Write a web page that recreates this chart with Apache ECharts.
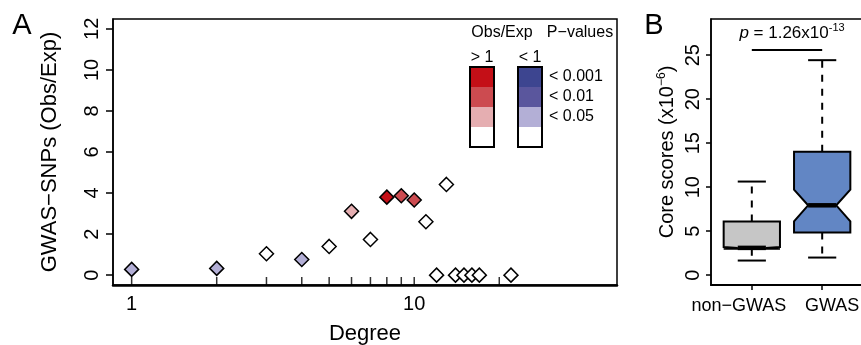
<!DOCTYPE html>
<html>
<head>
<meta charset="utf-8">
<script src="https://cdn.jsdelivr.net/npm/echarts@6/dist/echarts.min.js"></script>
<style>
  html, body { margin: 0; padding: 0; background: #fff; }
  #chart { width: 861px; height: 345px; }
</style>
</head>
<body>
<div id="chart"></div>
<script>
// Panel A: enrichment of GWAS SNPs by node degree
const degree = [1, 2, 3, 4, 5, 6, 7, 8, 9, 10, 11, 12, 13, 14, 15, 16, 17, 22];
const obsExp = [0.28, 0.33, 1.04, 0.76, 1.40, 3.11, 1.74, 3.80, 3.87, 3.66, 2.60, 0, 4.42, 0, 0, 0, 0, 0];
// 0 = n.s., 1 = p < 0.05, 2 = p < 0.01, 3 = p < 0.001
const sigLevel = [1, 1, 0, 1, 0, 1, 0, 3, 2, 2, 0, 0, 0, 0, 0, 0, 0, 0];
const degreeTicks = [1, 2, 3, 4, 5, 6, 7, 8, 9, 10, 20];
const degreeLabels = [1, 10];
const ratioTicks = [0, 2, 4, 6, 8, 10, 12];
const pLabels = ['< 0.001', '< 0.01', '< 0.05'];

// Panel B: core scores
const groups = ['non\u2212GWAS', 'GWAS'];
const whiskerLow = [1.66, 2.0];
const q1 = [3.0, 4.86];
const notchLow = [3.0, 6.11];
const median = [3.1, 7.94];
const notchHigh = [3.2, 9.73];
const q3 = [6.11, 14.02];
const whiskerHigh = [10.64, 24.44];
const scoreTicks = [0, 5, 10, 15, 20, 25];
const pValueY = 25.6;

const redShades = ['#ffffff', '#e5aeb1', '#cc4b50', '#c40f17'];
const blueShades = ['#ffffff', '#b3afd6', '#5a569d', '#3d4590'];
const boxColors = ['#c6c6c6', '#6286c4'];
const FONT = '"Liberation Sans", Arial, sans-serif';
const RATIO_MIN = -0.48;

const chart = echarts.init(document.getElementById('chart'));

function renderBox(params, api) {
  const x = api.value(0);
  const [lo, a, nlo, med, nhi, b, hi] = [1, 2, 3, 4, 5, 6, 7].map(k => api.value(k));
  const hw = 0.4, nw = 0.2, cw = 0.2;
  const pt = (dx, y) => api.coord([x + dx, y]);
  const line = (p1, p2, w, dash) => ({
    type: 'line',
    shape: { x1: p1[0], y1: p1[1], x2: p2[0], y2: p2[1] },
    style: { stroke: '#000', lineWidth: w, lineDash: dash || null }
  });
  const poly = [pt(-hw, a), pt(-hw, nlo), pt(-nw, med), pt(-hw, nhi), pt(-hw, b),
                pt(hw, b), pt(hw, nhi), pt(nw, med), pt(hw, nlo), pt(hw, a)];
  return {
    type: 'group',
    children: [
      line(pt(0, b), pt(0, hi), 2, [7, 7]),
      line(pt(0, a), pt(0, lo), 2, [7, 7]),
      line(pt(-cw, hi), pt(cw, hi), 2),
      line(pt(-cw, lo), pt(cw, lo), 2),
      { type: 'polygon', shape: { points: poly },
        style: { fill: boxColors[params.dataIndex], stroke: '#000', lineWidth: 2 } },
      line(pt(-nw, med), pt(nw, med), 4.5)
    ]
  };
}

const legendX = [470, 518];
const legendTop = 67, bandH = 20;
const graphics = [];
[redShades, blueShades].forEach((shades, c) => {
  [3, 2, 1, 0].forEach((lvl, k) => {
    graphics.push({ type: 'rect', shape: { x: legendX[c], y: legendTop + k * bandH, width: 24, height: bandH },
      style: { fill: shades[lvl] }, silent: true });
  });
  graphics.push({ type: 'rect', shape: { x: legendX[c], y: legendTop, width: 24, height: bandH * 4 },
    style: { fill: 'none', stroke: '#000', lineWidth: 2 }, silent: true });
});
const text = (t, x, y, size, align) => ({ type: 'text', x, y,
  style: { text: t, font: size + 'px ' + FONT, fill: '#000', align: align || 'center', verticalAlign: 'middle' } });
graphics.push(text('Obs/Exp', 502, 33, 16));
graphics.push(text('P\u2212values', 580, 33, 16));
graphics.push(text('> 1', 482, 58, 16));
graphics.push(text('< 1', 530, 58, 16));
pLabels.forEach((t, k) => graphics.push(text(t, 549, legendTop + 10 + k * bandH, 16, 'left')));
graphics.push(text('A', 22, 26, 29));
graphics.push(text('B', 654, 26, 29));

const tickLabel = { color: '#000', fontFamily: FONT };

chart.setOption({
  animation: false,
  grid: [
    { left: 113, top: 19, width: 504, height: 266, show: true, borderColor: '#000', borderWidth: 1.5,
      containLabel: false, outerBoundsMode: 'none' },
    { left: 711, top: 19, width: 152, height: 266, show: true, borderColor: '#000', borderWidth: 1.5,
      containLabel: false, outerBoundsMode: 'none' }
  ],
  xAxis: [
    {
      gridIndex: 0, type: 'log', logBase: 10, min: 0.859, max: 52.2,
      name: 'Degree', nameLocation: 'middle', nameGap: 38,
      nameTextStyle: { color: '#000', fontFamily: FONT, fontSize: 22 },
      axisLine: { onZero: false, lineStyle: { color: '#000', width: 2.5 } },
      axisTick: { show: false },
      axisLabel: { ...tickLabel, fontSize: 20, margin: 9, customValues: degreeLabels },
      splitLine: { show: false }, minorTick: { show: false }
    },
    {
      gridIndex: 1, type: 'value', min: 0.42, max: 2.58,
      axisLine: { onZero: false, lineStyle: { color: '#000', width: 2 } },
      axisTick: { length: 5, lineStyle: { color: '#000', width: 1.5 }, customValues: [1, 2] },
      axisLabel: { show: false },
      splitLine: { show: false }
    }
  ],
  yAxis: [
    {
      gridIndex: 0, type: 'value', min: RATIO_MIN, max: 12.48,
      name: 'GWAS\u2212SNPs (Obs/Exp)', nameLocation: 'middle', nameGap: 52, nameRotate: 90,
      nameTextStyle: { color: '#000', fontFamily: FONT, fontSize: 22 },
      axisLine: { show: true, onZero: false, lineStyle: { color: '#000', width: 1.5 } },
      axisTick: { show: true, length: 7, lineStyle: { color: '#000', width: 1.5 }, customValues: ratioTicks },
      axisLabel: { ...tickLabel, fontSize: 20, margin: 11, rotate: 90, customValues: ratioTicks },
      splitLine: { show: false }
    },
    {
      gridIndex: 1, type: 'value', min: -1.12, max: 29.12,
      name: 'Core scores (x10{sup|\u22126})', nameLocation: 'middle', nameGap: 33, nameRotate: 90,
      nameTextStyle: { color: '#000', fontFamily: FONT, fontSize: 20, lineHeight: 22,
        rich: { sup: { fontSize: 12, verticalAlign: 'top', lineHeight: 12, fontFamily: FONT, color: '#000' } } },
      axisLine: { show: true, onZero: false, lineStyle: { color: '#000', width: 1.5 } },
      axisTick: { show: true, length: 5, lineStyle: { color: '#000', width: 1.5 }, customValues: scoreTicks },
      axisLabel: { ...tickLabel, fontSize: 20, margin: 8, rotate: 90, customValues: scoreTicks },
      splitLine: { show: false }
    }
  ],
  series: [
    {
      // inward tick marks of the log Degree axis, sitting on the bottom edge
      type: 'scatter', xAxisIndex: 0, yAxisIndex: 0, silent: true, clip: false,
      symbol: 'rect', symbolSize: [1.5, 8], symbolOffset: [0, -4],
      itemStyle: { color: '#000' },
      data: degreeTicks.map(t => [t, RATIO_MIN])
    },
    {
      type: 'scatter', xAxisIndex: 0, yAxisIndex: 0,
      symbol: 'diamond', symbolSize: 14,
      itemStyle: { borderColor: '#000', borderWidth: 1.5, opacity: 1 },
      data: degree.map((d, i) => ({
        value: [d, obsExp[i]],
        itemStyle: { color: (obsExp[i] > 1 ? redShades : blueShades)[sigLevel[i]] }
      }))
    },
    {
      type: 'custom', xAxisIndex: 1, yAxisIndex: 1,
      renderItem: renderBox,
      encode: { x: 0, y: [1, 2, 3, 4, 5, 6, 7] },
      data: groups.map((g, i) => [i + 1, whiskerLow[i], q1[i], notchLow[i], median[i], notchHigh[i], q3[i], whiskerHigh[i]])
    },
    {
      type: 'line', xAxisIndex: 1, yAxisIndex: 1, symbol: 'none',
      lineStyle: { color: '#000', width: 2 },
      data: [[1, pValueY], [2, pValueY]]
    }
  ],
  graphic: graphics
});

// p-value annotation and group names, placed through the panel B scales
const pPos = chart.convertToPixel({ gridIndex: 1 }, [1.5, pValueY]);
const groupShift = [-13, 10];
const extra = groups.map((g, i) => {
  const p = chart.convertToPixel({ gridIndex: 1 }, [i + 1, -1.12]);
  return text(g, p[0] + groupShift[i], p[1] + 21, 18);
});
extra.push({
  type: 'text', x: pPos[0] + 5, y: pPos[1] - 17,
  style: {
    text: '{it|p} = 1.26x10{sup|-13}', align: 'center', verticalAlign: 'middle',
    font: '17px ' + FONT, fill: '#000', lineHeight: 20,
    rich: {
      it: { fontStyle: 'italic', fontSize: 17, fontFamily: FONT, lineHeight: 20 },
      sup: { fontSize: 11, fontFamily: FONT, verticalAlign: 'top', lineHeight: 12 }
    }
  }
});
chart.setOption({ graphic: graphics.concat(extra) });
</script>
</body>
</html>
